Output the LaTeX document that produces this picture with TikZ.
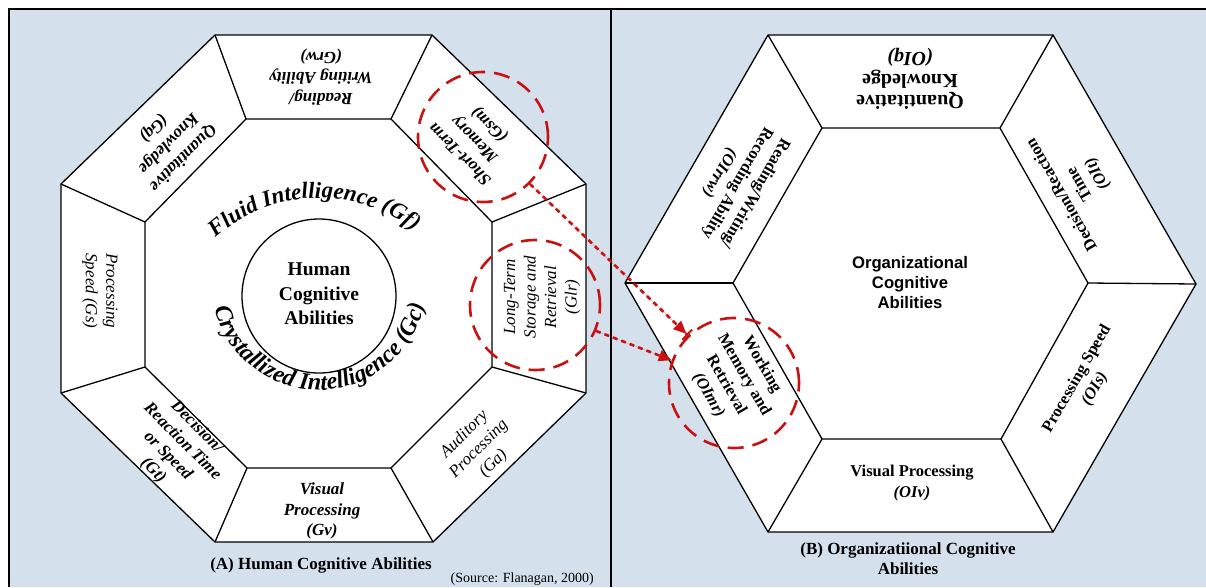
\documentclass[tikz,border=0pt]{standalone}
\usepackage{fontspec}
\setmainfont{Liberation Serif}
\newfontfamily\headsans{Liberation Sans}
\usetikzlibrary{arrows.meta,decorations.text}

\definecolor{panelbg}{RGB}{212,224,236}
\definecolor{markred}{RGB}{200,18,18}

\newcommand\arcfontA{\fontsize{23}{23}\selectfont\bfseries\itshape}
\newcommand\arcfontB{\fontsize{24}{24}\selectfont\bfseries\itshape}

\tikzset{
  x=1pt, y=1pt,
  frameline/.style={line width=2.6pt, black},
  ring/.style={draw=black, line width=1.3pt, fill=white, line join=miter},
  spoke/.style={draw=black, line width=1.3pt},
  seglab/.style={align=center, inner sep=0pt, font=\fontsize{17}{20.5}\selectfont\bfseries\itshape},
  seglabit/.style={align=center, inner sep=0pt, font=\fontsize{17}{20.5}\selectfont\itshape},
  hexlab/.style={align=center, inner sep=0pt, font=\fontsize{16.5}{20.5}\selectfont\bfseries},
  hilite/.style={circle, draw=markred, line width=2.6pt, dash pattern=on 16pt off 9pt, minimum size=130pt, inner sep=0pt},
  linkarrow/.style={draw=markred, line width=2.6pt, dash pattern=on 5pt off 4pt, fill=markred},
  caption/.style={align=center, inner sep=0pt, font=\fontsize{17}{20}\selectfont\bfseries}
}

\begin{document}
\begin{tikzpicture}
\useasboundingbox (0,0) rectangle (1206,-587);
% panel background and frame
\fill[white] (0,0) rectangle (1206,-587);
\fill[panelbg] (9,-9) rectangle (1206,-587);
\draw[frameline] (9,-587) -- (9,-9) -- (1206,-9);
\draw[frameline] (611,-9) -- (611,-587);

% ---------- left: octagon of human abilities ----------
\coordinate (o1) at (215,-35);  \coordinate (o2) at (432,-35);
\coordinate (o3) at (586,-184); \coordinate (o4) at (586,-393);
\coordinate (o5) at (433,-542); \coordinate (o6) at (215,-542);
\coordinate (o7) at (61,-393);  \coordinate (o8) at (61,-184);
\coordinate (i1) at (246,-119); \coordinate (i2) at (391,-119);
\coordinate (i3) at (492,-222); \coordinate (i4) at (492,-367);
\coordinate (i5) at (391,-468); \coordinate (i6) at (247,-468);
\coordinate (i7) at (145,-367); \coordinate (i8) at (145,-222);
\draw[ring] (o1)--(o2)--(o3)--(o4)--(o5)--(o6)--(o7)--(o8)--cycle;
\draw[ring] (i1)--(i2)--(i3)--(i4)--(i5)--(i6)--(i7)--(i8)--cycle;
\foreach \k in {1,...,8} \draw[spoke] (o\k) -- (i\k);

\draw[line width=1.3pt] (319,-296) circle[radius=77];
\node[align=center, inner sep=0pt, font=\fontsize{19.5}{24.5}\selectfont\bfseries] (hca) at (319,-294) {Human\\Cognitive\\Abilities};

% curved headings round the centre
\path[decorate, decoration={text along path, text align=center,
      text={|\arcfontA|Fluid Intelligence (Gf)}}]
  (319,-352) ++(142:154) arc[start angle=142, end angle=42, radius=154];
\path[decorate, decoration={text along path, text align=center,
      text={|\arcfontB|Crystallized Intelligence (Gc)}}]
  (319,-282) ++(192:108) arc[start angle=192, end angle=350, radius=108];

% segment labels
\node[seglab, rotate=180]   (grw) at (321,-77)  {Reading/\\Writing Ability\\(Grw)};
\node[seglab, rotate=135]   (gsm) at (475,-139) {Short-Term\\Memory\\(Gsm)};
\node[seglabit, rotate=90]  (glr) at (542,-297) {Long-Term\\Storage and\\Retrieval\\(Glr)};
\node[seglabit, rotate=45]  (ga)  at (479,-449) {Auditory\\Processing\\(Ga)};
\node[seglab]               (gv)  at (322,-511) {Visual\\Processing\\(Gv)};
\node[seglab, rotate=-45]   (gt)  at (175,-449) {Decision/\\Reaction Time\\or Speed\\(Gt)};
\node[seglabit, rotate=-90] (gs)  at (100,-291) {Processing\\Speed (Gs)};
\node[seglab, rotate=-135]  (gq)  at (168,-143) {Quantitative\\Knowledge\\(Gq)};

\node[caption] (capa) at (321,-565) {(A) Human Cognitive Abilities};
\node[inner sep=0pt, anchor=east, font=\fontsize{14}{16}\selectfont] (src) at (594,-579) {(Source: Flanagan, 2000)};

% ---------- right: hexagon of organizational abilities ----------
\coordinate (h1) at (768,-35);   \coordinate (h2) at (1053,-35);
\coordinate (h3) at (1196,-284); \coordinate (h4) at (1053,-532);
\coordinate (h5) at (768,-532);  \coordinate (h6) at (625,-283);
\coordinate (j1) at (822,-128);  \coordinate (j2) at (1000,-128);
\coordinate (j3) at (1088,-283); \coordinate (j4) at (1001,-439);
\coordinate (j5) at (822,-439);  \coordinate (j6) at (733,-283);
\draw[ring] (h1)--(h2)--(h3)--(h4)--(h5)--(h6)--cycle;
\draw[ring] (j1)--(j2)--(j3)--(j4)--(j5)--(j6)--cycle;
\foreach \k in {1,...,6} \draw[spoke] (h\k) -- (j\k);

\node[align=center, inner sep=0pt, font=\headsans\fontsize{16.7}{20}\selectfont\bfseries] (oca) at (910,-283) {Organizational\\Cognitive\\Abilities};

\node[hexlab, rotate=180, font=\fontsize{20}{21.5}\selectfont\bfseries] (oiq) at (910,-79) {Quantitative\\Knowledge\\\textit{(OIq)}};
\node[hexlab, rotate=120]  (oit)  at (1080,-184) {Decision/Reaction\\Time\\\textit{(OIt)}};
\node[hexlab, rotate=60]   (ois)  at (1086,-384) {Processing Speed\\\textit{(OIs)}};
\node[hexlab]              (oiv)  at (912,-483) {Visual Processing\\\textit{(OIv)}};
\node[hexlab, rotate=-60]  (oimr) at (735,-380) {Working\\Memory and\\Retrieval\\\textit{(OImr)}};
\node[hexlab, rotate=-120] (oirrw) at (737,-183) {Reading/Writing/\\Recording Ability\\\textit{(OIrrw)}};

\node[caption] (capb) at (908,-559) {(B) Organizatiional Cognitive\\Abilities};

% ---------- highlights and links ----------
\node[hilite] (c1) at (483,-137) {};
\node[hilite] (c2) at (535,-305) {};
\node[hilite] (c3) at (734,-383) {};
\draw[linkarrow, -{Triangle[length=13pt,width=11pt] Bar[width=14pt,line width=2pt]}] (c1.-45) -- (c3.134);
\draw[linkarrow, -{Triangle[length=13pt,width=11pt]}] (c2.-23) -- (c3.160);
\end{tikzpicture}
\end{document}
